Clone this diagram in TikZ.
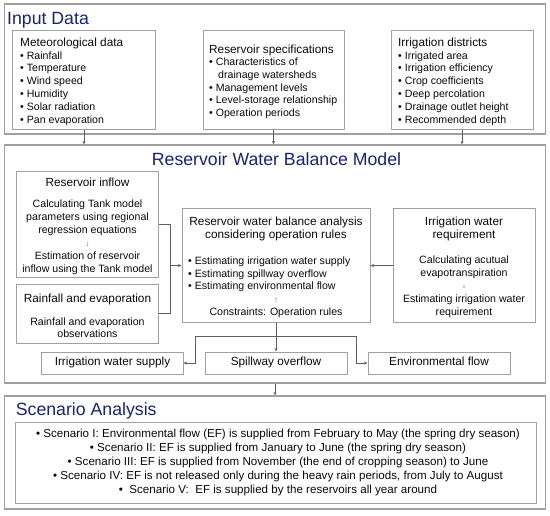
\documentclass[tikz,border=0pt]{standalone}
\usepackage{fontspec}
\setmainfont{Liberation Sans}
\usetikzlibrary{arrows.meta}
\definecolor{boxgray}{RGB}{160,160,160}
\definecolor{linegray}{RGB}{95,95,95}
\definecolor{navy}{RGB}{25,35,115}
\definecolor{txt}{RGB}{10,10,10}
\definecolor{symgray}{RGB}{110,110,110}
\begin{document}
\begin{tikzpicture}[x=1bp,y=-1bp,
  frame/.style={draw=boxgray,line width=1.3bp,inner sep=0},
  box/.style={draw=boxgray,line width=1bp,inner sep=0},
  conn/.style={draw=linegray,line width=0.7bp},
  arr/.style={conn,-{Stealth[length=3.5bp,width=3bp]}},
  ttl/.style={font=\fontsize{17.7bp}{20bp}\selectfont,text=navy,inner sep=0},
  hd/.style={font=\fontsize{11.8bp}{14bp}\selectfont,text=txt,inner sep=0},
  bd/.style={font=\fontsize{10.6bp}{13bp}\selectfont,text=txt,inner sep=0},
  sc/.style={font=\fontsize{11.6bp}{14bp}\selectfont,text=txt,inner sep=0},
  sym/.style={font=\fontsize{8bp}{10bp}\selectfont,text=symgray,inner sep=0},
  lbl/.style={hd,text height=0.72em,text depth=0.2em},
]
\fill[white] (0,0) rectangle (550,516);
\useasboundingbox (0,0) rectangle (550,516);

% ---------- Input Data ----------
\node[frame,minimum width=541bp,minimum height=130bp] (input) at (275,69) {};
\node[ttl,anchor=base west] (tin) at (7,25) {Input Data};

\node[box,minimum width=142bp,minimum height=99bp] (met) at (84,80.5) {};
\node[hd,anchor=base west] (methd) at (20,46.2) {Meteorological data};
\foreach \t [count=\i] in {Rainfall,Temperature,Wind speed,Humidity,Solar radiation,Pan evaporation}
  \node[bd,anchor=base west] (met\i) at (20,46.2+12.9*\i) {• \t};

\node[box,minimum width=141bp,minimum height=99bp] (res) at (273.5,80.5) {};
\node[hd,anchor=base west] (reshd) at (209,53.2) {Reservoir specifications};
\node[bd,anchor=base west] (res1) at (209,65.9) {• Characteristics of};
\node[bd,anchor=base west] (res1b) at (218,78.6) {drainage watersheds};
\node[bd,anchor=base west] (res2) at (209,91.3) {• Management levels};
\node[bd,anchor=base west] (res3) at (209,104) {• Level-storage relationship};
\node[bd,anchor=base west] (res4) at (209,116.7) {• Operation periods};

\node[box,minimum width=142bp,minimum height=99bp] (irr) at (462,80.5) {};
\node[hd,anchor=base west] (irrhd) at (398,46.2) {Irrigation districts};
\foreach \t [count=\i] in {Irrigated area,Irrigation efficiency,Crop coefficients,Deep percolation,Drainage outlet height,Recommended depth}
  \node[bd,anchor=base west] (irr\i) at (398,46.2+12.9*\i) {• \t};

% ---------- Reservoir Water Balance Model ----------
\node[frame,minimum width=541bp,minimum height=238bp] (model) at (275,264) {};
\node[ttl,anchor=base] (tmodel) at (276.5,165.5) {Reservoir Water Balance Model};

\node[box,minimum width=141bp,minimum height=105bp] (inflow) at (87.5,224.5) {};
\node[hd,anchor=base] (infhd) at (87.5,186.2) {Reservoir inflow};
\node[bd,anchor=base] (inf1) at (87.5,207.8) {Calculating Tank model};
\node[bd,anchor=base] (inf2) at (87.5,220.8) {parameters using regional};
\node[bd,anchor=base] (inf3) at (87.5,233.8) {regression equations};
\node[sym,anchor=base] (infar) at (87.5,246.5) {↓};
\node[bd,anchor=base] (inf4) at (87.5,259.8) {Estimation of reservoir};
\node[bd,anchor=base] (inf5) at (87.5,272.8) {inflow using the Tank model};

\node[box,minimum width=141bp,minimum height=59bp] (rain) at (87.5,313.5) {};
\node[hd,anchor=base] (rainhd) at (87.5,302.2) {Rainfall and evaporation};
\node[bd,anchor=base] (rain1) at (87.5,325.5) {Rainfall and evaporation};
\node[bd,anchor=base] (rain2) at (87.5,337) {observations};

\node[box,minimum width=188bp,minimum height=113bp] (central) at (276,265.5) {};
\node[hd,anchor=base] (cenhd1) at (276,225.2) {Reservoir water balance analysis};
\node[hd,anchor=base] (cenhd2) at (276,238.6) {considering operation rules};
\node[bd,anchor=base west] (cen1) at (188,264.8) {• Estimating irrigation water supply};
\node[bd,anchor=base west] (cen2) at (188,277.3) {• Estimating spillway overflow};
\node[bd,anchor=base west] (cen3) at (188,289.8) {• Estimating environmental flow};
\node[sym,anchor=base] (cenar) at (276,302) {↑};
\node[bd,anchor=base] (cen4) at (276,315.5) {Constraints: Operation rules};

\node[box,minimum width=142bp,minimum height=113bp] (irrreq) at (464,265.5) {};
\node[hd,anchor=base] (reqhd1) at (464,225.2) {Irrigation water};
\node[hd,anchor=base] (reqhd2) at (464,238.6) {requirement};
\node[bd,anchor=base] (req1) at (464,263.1) {Calculating acutual};
\node[bd,anchor=base] (req2) at (464,276.1) {evapotranspiration};
\node[sym,anchor=base] (reqar) at (464,288.8) {↓};
\node[bd,anchor=base] (req3) at (464,302.1) {Estimating irrigation water};
\node[bd,anchor=base] (req4) at (464,315.5) {requirement};

\node[box,lbl,minimum width=141bp,minimum height=22bp] (iws) at (112.5,363) {Irrigation water supply};
\node[box,lbl,minimum width=142bp,minimum height=22bp] (spill) at (276,363) {Spillway overflow};
\node[box,lbl,minimum width=142bp,minimum height=22bp] (env) at (439,363) {Environmental flow};

% ---------- Scenario Analysis ----------
\node[frame,minimum width=541bp,minimum height=113bp] (scen) at (275,452.5) {};
\node[ttl,anchor=base west] (tscen) at (15.7,415) {Scenario Analysis};
\node[box,minimum width=520bp,minimum height=81bp] (scenin) at (276,462.5) {};
\node[sc,anchor=base] (sc1) at (278,437) {• Scenario I: Environmental flow (EF) is supplied from February to May (the spring dry season)};
\node[sc,anchor=base] (sc2) at (278,451.2) {• Scenario II: EF is supplied from January to June (the spring dry season)};
\node[sc,anchor=base] (sc3) at (278,465.4) {• Scenario III: EF is supplied from November (the end of cropping season) to June};
\node[sc,anchor=base] (sc4) at (278,479.6) {• Scenario IV: EF is not released only during the heavy rain periods, from July to August};
\node[sc,anchor=base] (sc5) at (278,493.8) {•\ \ Scenario V:\ \ EF is supplied by the reservoirs all year around};

% ---------- connectors ----------
\draw[arr] (met.south) -- (met.south |- model.north);
\draw[arr] (res.south) -- (res.south |- model.north);
\draw[arr] (irr.south) -- (irr.south |- model.north);

\coordinate (j1) at (170,265.5);
\draw[conn] (inflow.east) -- (inflow.east -| j1) -- (rain.east -| j1) -- (rain.east);
\draw[arr] (j1) -- (central.west);
\draw[arr] (irrreq.west) -- (central.east);

\draw[arr] (central.south) -- (spill.north);
\coordinate (bl) at (195,336);
\coordinate (br) at (356,336);
\draw[conn] (bl) -- (br);
\draw[arr] (bl) |- (iws.east);
\draw[arr] (br) |- (env.west);

\draw[arr] (model.south) -- (scen.north);
\end{tikzpicture}
\end{document}
